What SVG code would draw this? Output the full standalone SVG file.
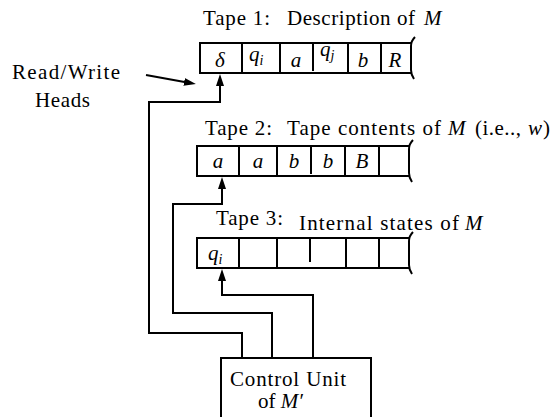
<svg xmlns="http://www.w3.org/2000/svg" width="555" height="417" viewBox="0 0 555 417">
<style>
.ln{fill:none;stroke:#000;stroke-width:2}
.t{font-family:"Liberation Serif","Times New Roman",serif;font-size:21px;fill:#000}
.m{font-style:italic}
.sub{font-size:14px;font-style:italic}
.c{text-anchor:middle}
</style>
<defs>
<marker id="ah" markerUnits="userSpaceOnUse" markerWidth="12" markerHeight="8" viewBox="0 0 12 8" refX="6" refY="4" orient="auto"><path d="M0,0 L12,4 L0,8 z" fill="#000"/></marker>
</defs>
<rect width="555" height="417" fill="#fff"/>

<g id="tape1">
<text class="t" x="203" y="25" textLength="67" lengthAdjust="spacing">Tape 1:</text>
<text class="t" x="287" y="25" textLength="128" lengthAdjust="spacing">Description of</text>
<text class="t m" x="424" y="25">M</text>
<path class="ln" d="M411,43 H200 V73 H411 M242,43 V73 M280,43 V73 M313,43 V71 M348,43 V73 M381,43 V73"/>
<path class="ln" d="M415,37 C412,40 411,42 411,46 L411,70 C411,74 412,76 414,79"/>
<text class="t m c" x="220" y="67">δ</text>
<text class="t m" x="249" y="61">q<tspan class="sub" dy="4">i</tspan></text>
<text class="t m c" x="296" y="67">a</text>
<text class="t m" x="320" y="56">q<tspan class="sub" dy="4">j</tspan></text>
<text class="t m c" x="363" y="67">b</text>
<text class="t m c" x="395" y="67">R</text>
</g>

<g id="tape2">
<text class="t" x="205" y="135" textLength="67" lengthAdjust="spacing">Tape 2:</text>
<text class="t" x="287" y="135" textLength="154" lengthAdjust="spacing">Tape contents of</text>
<text class="t m" x="448" y="135">M</text>
<text class="t" x="475" y="135" textLength="46" lengthAdjust="spacing">(i.e..,</text>
<text class="t m" x="528" y="135">w</text>
<text class="t" x="543" y="135">)</text>
<path class="ln" d="M409,146 H197 V176 H409 M239,146 V176 M277,146 V176 M311,146 V174 M345,146 V176 M379,146 V176"/>
<path class="ln" d="M413,140 C410,143 409,145 409,149 L409,173 C409,177 410,179 412,182"/>
<text class="t m c" x="218" y="168">a</text>
<text class="t m c" x="258" y="168">a</text>
<text class="t m c" x="294" y="168">b</text>
<text class="t m c" x="328" y="168">b</text>
<text class="t m c" x="362" y="168">B</text>
</g>

<g id="tape3">
<text class="t" x="216" y="225" textLength="67" lengthAdjust="spacing">Tape 3:</text>
<text class="t" x="299" y="230" textLength="160" lengthAdjust="spacing">Internal states of</text>
<text class="t m" x="465" y="230">M</text>
<path class="ln" d="M409,238 H197 V268 H409 M239,238 V268 M277,238 V268 M310,238 V262 M346,238 V268 M379,238 V268"/>
<path class="ln" d="M413,232 C410,235 409,237 409,241 L409,265 C409,269 410,271 412,274"/>
<text class="t m" x="208" y="260">q<tspan class="sub" dy="4">i</tspan></text>
</g>

<g id="heads-label">
<text class="t" x="12" y="79" textLength="108" lengthAdjust="spacing">Read/Write</text>
<text class="t" x="35" y="107" textLength="55" lengthAdjust="spacing">Heads</text>
</g>

<g id="control-unit">
<rect class="ln" x="221" y="358" width="150" height="70"/>
<text class="t" x="230" y="386" textLength="116" lengthAdjust="spacing">Control Unit</text>
<text class="t" x="258" y="408">of <tspan class="m">M′</tspan></text>
</g>

<g id="connectors">
<path class="ln" d="M146,75 L190,83" marker-end="url(#ah)"/>
<path class="ln" d="M242,358 V333 H149 V102 H220 V80" marker-end="url(#ah)"/>
<path class="ln" d="M272,358 V313 H173 V204 H222 V183" marker-end="url(#ah)"/>
<path class="ln" d="M313,358 V295 H222 V275" marker-end="url(#ah)"/>
</g>
</svg>
